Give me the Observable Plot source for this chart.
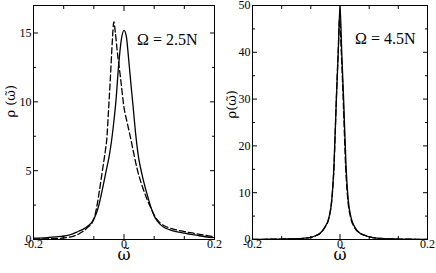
<!DOCTYPE html>
<html><head><meta charset="utf-8">
<script src="https://cdn.jsdelivr.net/npm/d3@7"></script>
<script src="https://cdn.jsdelivr.net/npm/@observablehq/plot@0.6"></script>
<style>
body{margin:0;background:#fff;}
#wrap{display:flex;width:436px;height:273px;position:relative;}
#wrap svg{display:block;}
#wrap svg:first-child{position:relative;z-index:2;}
</style></head><body><div id="wrap"></div>
<script>
// Panel (a): Omega = 2.5N
const omegaSolidA = [-0.2,-0.17,-0.14,-0.12,-0.1,-0.09,-0.08,-0.07,-0.06,-0.054,-0.048,-0.04,-0.033,-0.027,-0.022,-0.018,-0.012,-0.006,0,0.005,0.01,0.015,0.02,0.026,0.032,0.04,0.05,0.06,0.067,0.073,0.08,0.09,0.1,0.115,0.133,0.16,0.18,0.2];
const rhoSolidA   = [0.10,0.14,0.22,0.33,0.6,0.75,0.98,1.3,2.0,2.7,3.6,4.9,6.0,7.3,8.7,10.0,12.6,14.5,15.2,14.8,13.2,11.4,9.7,7.6,6.0,4.7,3.4,2.3,1.7,1.38,1.1,0.85,0.72,0.58,0.46,0.31,0.2,0.13];
const omegaDashA  = [-0.2,-0.17,-0.14,-0.12,-0.1,-0.09,-0.08,-0.07,-0.065,-0.06,-0.055,-0.05,-0.045,-0.041,-0.038,-0.034,-0.03,-0.026,-0.0225,-0.019,-0.015,-0.0075,0,0.007,0.0144,0.02,0.03,0.04,0.05,0.06,0.068,0.08,0.09,0.1,0.12,0.133,0.16,0.18,0.2];
const rhoDashA    = [0.03,0.05,0.09,0.18,0.4,0.6,0.88,1.25,1.65,2.4,3.4,4.5,5.6,6.5,7.3,9.5,11.8,14.3,15.8,15.0,13.7,11.7,9.6,8.5,7.4,6.5,5.0,3.9,3.0,2.25,1.7,1.2,0.98,0.85,0.67,0.58,0.42,0.3,0.2];

// Panel (b): Omega = 4.5N
const omegaSolidB = [-0.2,-0.16,-0.133,-0.1,-0.085,-0.07,-0.055,-0.045,-0.035,-0.025,-0.019,-0.0137,-0.0084,-0.004,0,0.004,0.0084,0.0137,0.019,0.025,0.034,0.045,0.057,0.075,0.1,0.133,0.16,0.2];
const rhoSolidB   = [0.03,0.06,0.1,0.18,0.26,0.4,0.85,1.4,2.6,4.8,8.3,16,29.7,40,50,40,29.7,16,8.3,4.8,2.6,1.4,0.85,0.38,0.18,0.1,0.06,0.03];
const omegaDashB  = [-0.2,-0.16,-0.133,-0.1,-0.085,-0.07,-0.055,-0.045,-0.035,-0.025,-0.019,-0.0137,-0.0084,-0.004,-0.001,0.003,0.0075,0.013,0.018,0.024,0.033,0.045,0.057,0.075,0.1,0.133,0.16,0.2];
const rhoDashB    = [0.03,0.06,0.1,0.17,0.25,0.38,0.8,1.35,2.5,4.7,8.2,15.5,30,40.5,47,40,29.5,15.3,8.3,4.8,2.6,1.4,0.88,0.4,0.19,0.1,0.06,0.03];

// Ticks
const xMajor = [-0.2, 0, 0.2];
const xMinor = [-0.1333, -0.0667, 0.0667, 0.1333];
const yMajorA = [0, 5, 10, 15];
const yMinorA = [2.5, 7.5, 12.5];
const yMajorB = [0, 10, 20, 30, 40, 50];
const yMinorB = [5, 15, 25, 35, 45];

const labelA = "Ω = 2.5N";
const labelB = "Ω = 4.5N";
const yLabelA = "ρ (ω\u0303)";
const yLabelB = "ρ(ω\u0303)";
const xLabel = "ω\u0303";

const toRows = (xs, ys) => xs.map((x, i) => ({x, y: ys[i]}));
const font = "Liberation Serif";
const labelFont = "DejaVu Serif";

function panel({solid, dashed, yDomain, yMajor, yMinor, ml, mr, note, noteDx, noteDy, yLabel, yLabelDx, yLabelDy}) {
  const inward = (anchor, ticks, size, isX) => (isX ? Plot.axisX : Plot.axisY)({
    anchor, ticks, tickSize: -size, tickFormat: () => "", label: null, stroke: "black", strokeWidth: 1
  });
  return Plot.plot({
    width: 218, height: 273,
    marginLeft: ml, marginRight: mr, marginTop: 5, marginBottom: 34,
    style: `font-family: ${font}, serif; font-size: 12px; color: black; background: transparent; overflow: visible;`,
    x: {domain: [-0.2, 0.2]},
    y: {domain: yDomain},
    marks: [
      Plot.line(dashed, {x: "x", y: "y", stroke: "black", strokeWidth: 1.3, strokeDasharray: "6,3", curve: "monotone-x"}),
      Plot.line(solid, {x: "x", y: "y", stroke: "black", strokeWidth: 1.3, curve: "monotone-x"}),
      Plot.frame({stroke: "black", strokeWidth: 1}),
      inward("bottom", xMinor, 3, true),
      inward("top", xMinor, 3, true),
      inward("bottom", xMajor, 5, true),
      inward("top", xMajor, 5, true),
      inward("left", yMinor, 3, false),
      inward("right", yMinor, 3, false),
      inward("left", yMajor, 5, false),
      inward("right", yMajor, 5, false),
      Plot.axisX({anchor: "bottom", ticks: xMajor, tickSize: 0, tickPadding: 0, label: null, tickFormat: d => String(d), fontSize: 12, fontFamily: font, fill: "black"}),
      Plot.axisY({anchor: "left", ticks: yMajor, tickSize: 0, tickPadding: 2, label: null, tickFormat: d => String(d), fontSize: 12, fontFamily: font, fill: "black"}),
      Plot.text([note], {frameAnchor: "top-right", dx: noteDx, dy: noteDy, textAnchor: "end", fontSize: 16, fontFamily: font, fill: "black"}),
      Plot.text([yLabel], {frameAnchor: "left", dx: yLabelDx, dy: yLabelDy, rotate: -90, fontSize: 13, fontFamily: labelFont, fill: "black"}),
      Plot.text([xLabel], {frameAnchor: "bottom", dy: 20, fontSize: 16, fontFamily: labelFont, fill: "black"})
    ]
  });
}

const wrap = document.getElementById("wrap");
wrap.appendChild(panel({
  solid: toRows(omegaSolidA, rhoSolidA), dashed: toRows(omegaDashA, rhoDashA),
  yDomain: [0, 17], yMajor: yMajorA, yMinor: yMinorA, ml: 33, mr: 4,
  note: labelA, noteDx: -17, noteDy: 28, yLabel: yLabelA, yLabelDx: -23, yLabelDy: -5
}));
wrap.appendChild(panel({
  solid: toRows(omegaSolidB, rhoSolidB), dashed: toRows(omegaDashB, rhoDashB),
  yDomain: [0, 50], yMajor: yMajorB, yMinor: yMinorB, ml: 34, mr: 9,
  note: labelB, noteDx: -12, noteDy: 27, yLabel: yLabelB, yLabelDx: -21, yLabelDy: -4
}));
</script></body></html>
